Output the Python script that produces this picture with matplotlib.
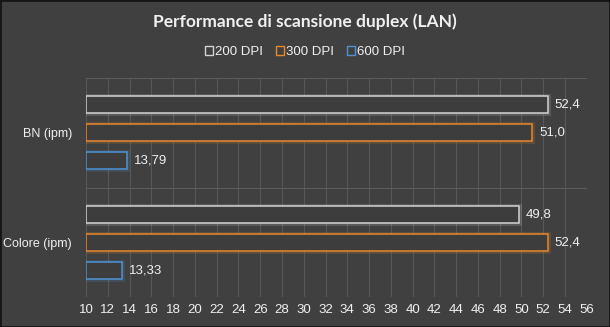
import numpy as np
import matplotlib
matplotlib.use('Agg')
import matplotlib.pyplot as plt
import matplotlib.patheffects as pe
from matplotlib.patches import Patch

categories = ['BN (ipm)', 'Colore (ipm)']
series = ['200 DPI', '300 DPI', '600 DPI']
vals_200 = [52.4, 49.8]
vals_300 = [51.0, 52.4]
vals_600 = [13.79, 13.33]
labels_200 = ['52,4', '49,8']
labels_300 = ['51,0', '52,4']
labels_600 = ['13,79', '13,33']
xticks = np.arange(10, 57, 2)

plt.rcParams['font.family'] = ['Liberation Sans', 'DejaVu Sans']

bg = '#404040'
colors = ['#d4d4d4', '#e8882a', '#4f92d4']
txt = '#f0f0f0'

fig = plt.figure(figsize=(6.10, 3.27), dpi=100, facecolor=bg)
ax = fig.add_axes([0.141, 0.092, 0.821, 0.669])
ax.set_facecolor(bg)

y = np.arange(len(categories))
step = 0.256
h = 0.155
data = [vals_200, vals_300, vals_600]
labs = [labels_200, labels_300, labels_600]
for i, (vals, lab, c) in enumerate(zip(data, labs, colors)):
    pos = y + (i - 1) * step
    bars = ax.barh(pos, np.array(vals) - 10, left=10, height=h,
                   color='#3d3d3d', edgecolor=c, linewidth=1.1, zorder=3)
    for b in bars:
        b.set_path_effects([pe.Stroke(linewidth=3.5, foreground=c, alpha=0.18),
                            pe.Normal()])
    for p, v, l in zip(pos, vals, lab):
        ax.text(v + 0.6, p, l, va='center', ha='left', color=txt, fontsize=9.5)

ax.set_xlim(10, 56)
ax.set_ylim(1.5, -0.5)
ax.set_xticks(xticks)
ax.set_yticks(y)
ax.set_yticklabels(categories)
ax.tick_params(axis='both', length=0, colors=txt, labelsize=9.5)
ax.tick_params(axis='x', pad=5)
ax.tick_params(axis='y', labelsize=9, pad=10)
for x in xticks:
    ax.axvline(x, color='#575757', lw=0.8, zorder=1)
for yy in [-0.5, 0.5, 1.5]:
    ax.axhline(yy, color='#5c5c5c', lw=0.8, zorder=1)
for s in ax.spines.values():
    s.set_visible(False)

fig.text(0.5, 0.933, 'Performance di scansione duplex (LAN)', ha='center',
         va='center', color=txt, fontsize=12.5, fontweight='bold', family='Lato')
handles = [Patch(facecolor=bg, edgecolor=c, linewidth=1) for c in colors]
fig.legend(handles, series, loc='center', bbox_to_anchor=(0.5, 0.84),
           ncol=3, frameon=False, fontsize=9.5, labelcolor=txt,
           handlelength=0.6, handleheight=0.6, handletextpad=0.15,
           columnspacing=1.0)

border = plt.Rectangle((0, 0), 1, 1, transform=fig.transFigure, fill=False,
                       edgecolor='#151515', lw=2)
fig.patches.append(border)

fig.savefig('out.png', dpi=100, facecolor=bg)
